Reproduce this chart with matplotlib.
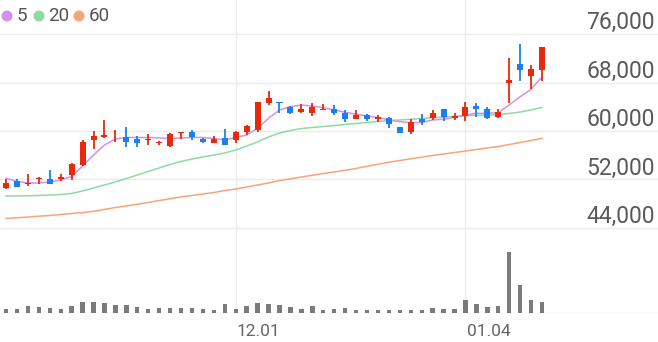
import matplotlib
matplotlib.use("Agg")
import matplotlib.pyplot as plt
import matplotlib.transforms as mtransforms
from matplotlib.patches import Circle

plt.rcParams['font.family'] = ['Roboto', 'DejaVu Sans']

# 일봉 데이터 (시가, 고가, 저가, 종가) - 그림에서 읽은 값
opens = [50600, 51750, 51300, 52000, 52100, 52100, 52700, 54400, 58500, 59000,
         59600, 59000, 58600, 58500, 58000, 57500, 59600, 59800, 58600, 58000,
         58800, 58500, 59800, 60200, 64700, 64800, 64000, 63100, 62900, 63500,
         63700, 62900, 61900, 62600, 61900, 62100, 60600, 59900, 61900, 62100,
         63600, 62100, 62400, 64100, 63700, 62300, 68000, 71100, 69000, 70000]
highs = [52100, 52100, 52900, 52400, 53600, 52900, 54700, 58500, 60000, 61800,
         60100, 60700, 59200, 59500, 58400, 59600, 59800, 60200, 58800, 59100,
         60400, 60000, 61000, 64800, 66600, 64800, 64100, 64400, 64700, 64400,
         64300, 63500, 63400, 62800, 62600, 62300, 60700, 61900, 62800, 63500,
         63600, 62900, 64800, 64600, 64000, 63600, 72100, 74400, 70900, 73900]
lows = [50500, 50700, 51000, 51300, 51300, 51800, 51900, 54300, 57100, 58800,
        58200, 57400, 57400, 57700, 57700, 57400, 58600, 58500, 58000, 58000,
        57700, 58100, 59300, 59900, 64300, 62900, 62800, 63000, 62500, 63400,
        62600, 61500, 61900, 61700, 61500, 60500, 59700, 59500, 61000, 61800,
        61700, 61800, 61700, 62300, 61900, 62200, 64700, 68300, 66900, 68300]
closes = [51400, 50800, 51500, 52200, 51300, 52400, 54600, 58200, 59100, 59300,
          59700, 58200, 58000, 58700, 58200, 59500, 59800, 59000, 58200, 58700,
          57700, 59900, 60800, 64800, 65500, 64600, 62900, 63700, 63900, 63700,
          62900, 61900, 62600, 61900, 62300, 61100, 59700, 61500, 61500, 62900,
          62300, 62500, 64000, 63600, 62100, 63100, 68400, 70100, 70300, 73800]

# 이동평균선 (5일, 20일, 60일)
ma5 = [52200, 51670, 51420, 51420, 51590, 51920, 52490, 54230, 56040, 57690,
       58680, 58930, 58930, 58930, 58850, 58760, 58850, 58930, 58930, 58760,
       58520, 58930, 59340, 60450, 62100, 63470, 64010, 64290, 64130, 63850,
       63470, 63090, 62760, 62480, 62230, 61820, 61540, 61370, 61400, 61820,
       61930, 62260, 62640, 62920, 62920, 63020, 64290, 65660, 66880, 68960]
ma20 = [49280, 49280, 49310, 49360, 49440, 49520, 49690, 50100, 50600, 51090,
        51590, 52160, 52740, 53320, 53900, 54470, 54970, 55380, 55710, 56040,
        56370, 56870, 57530, 58190, 59010, 59670, 60080, 60410, 60580, 60740,
        60910, 61070, 61240, 61400, 61570, 61730, 61820, 61930, 62060, 62180,
        62280, 62390, 62510, 62610, 62640, 62670, 62890, 63140, 63470, 63880]
ma60 = [45560, 45680, 45810, 45940, 46060, 46220, 46390, 46550, 46750, 47050,
        47380, 47630, 47910, 48200, 48530, 48830, 49110, 49360, 49610, 49850,
        50180, 50430, 50760, 51090, 51420, 51830, 52110, 52410, 52690, 52990,
        53240, 53520, 53810, 54180, 54520, 54840, 55130, 55410, 55680, 55960,
        56210, 56450, 56700, 56950, 57200, 57440, 57770, 58100, 58430, 58800]

# 거래량 (천주)
volume = [92, 108, 175, 150, 132, 92, 182, 268, 282, 242,
          200, 192, 142, 100, 118, 125, 125, 118, 100, 68,
          225, 108, 182, 250, 232, 192, 158, 100, 175, 75,
          92, 125, 68, 68, 68, 75, 82, 82, 68, 125,
          92, 92, 325, 225, 158, 182, 1525, 700, 332, 275]

price_ticks = [44000, 52000, 60000, 68000, 76000]
date_labels = ['12.01', '01.04']
date_index = [21, 42]

ma_labels = ['5', '20', '60']
ma_colors = ['#d591e9', '#8fd9a3', '#f7a47c']
up_color = '#e8290b'
down_color = '#1a80f0'
grid_color = '#ececec'

W, H = 658, 342
fig = plt.figure(figsize=(W / 100, H / 100), dpi=100)
ax = fig.add_axes([0, 29 / H, 1, 313 / H])
ax.set_xlim(-0.55, 59.6)
ax.set_ylim(29970, 81615)
for s in ax.spines.values():
    s.set_visible(False)
ax.set_xticks([])
ax.set_yticks([])

# 격자선
for v in price_ticks:
    ax.axhline(v, color=grid_color, lw=1, zorder=0)
for i in date_index:
    ax.axvline(i, color=grid_color, lw=1, zorder=0)

# 거래량 (같은 영역의 아래쪽)
ax2 = ax.twinx()
ax2.set_ylim(0, 313 * 25)
ax2.set_axis_off()
x = list(range(len(closes)))
ax2.bar(x, volume, width=0.4, color='#7b7b7b', zorder=2)
ax2.axhline(0, color='#e4e4e4', lw=1, zorder=1)

# 이동평균선
ax.plot(x, ma60, color=ma_colors[2], lw=1.1, zorder=2)
ax.plot(x, ma20, color=ma_colors[1], lw=1.1, zorder=2)
ax.plot(x, ma5, color=ma_colors[0], lw=1.1, zorder=2)

# 캔들
colors = [up_color if c >= o else down_color for o, c in zip(opens, closes)]
bottoms = [min(o, c) for o, c in zip(opens, closes)]
heights = [max(abs(c - o), 150) for o, c in zip(opens, closes)]
ax.vlines(x, lows, highs, colors=colors, lw=1.3, zorder=3)
ax.bar(x, heights, bottom=bottoms, width=0.55, color=colors, zorder=4)

# 가격 라벨 (오른쪽, 격자선 위)
lab_trans = mtransforms.offset_copy(
    mtransforms.blended_transform_factory(ax.transAxes, ax.transData),
    fig=fig, x=-3, y=5, units='dots')
for v in price_ticks:
    ax.text(1.0, v, f'{v:,}', transform=lab_trans, ha='right', va='baseline',
            fontsize=16.5, color='#5a5a5a')

# 날짜 라벨
date_trans = mtransforms.blended_transform_factory(ax.transData, ax.transAxes)
for i, lab in zip(date_index, date_labels):
    ax.text(i + 0.1, -0.058, lab, transform=date_trans, ha='left', va='center',
            fontsize=12.5, color='#666666')

# 범례 (왼쪽 위) - 픽셀 좌표
dot_x = [7, 39, 79]
for px, lab, c in zip(dot_x, ma_labels, ma_colors):
    fig.add_artist(Circle((px, H - 16), 4.8, color=c,
                          transform=mtransforms.IdentityTransform()))
    fig.text((px + 9.5) / W, 1 - 16 / H, lab, ha='left', va='center',
             fontsize=13.5, color='#555555')

fig.savefig('out.png', dpi=100)
